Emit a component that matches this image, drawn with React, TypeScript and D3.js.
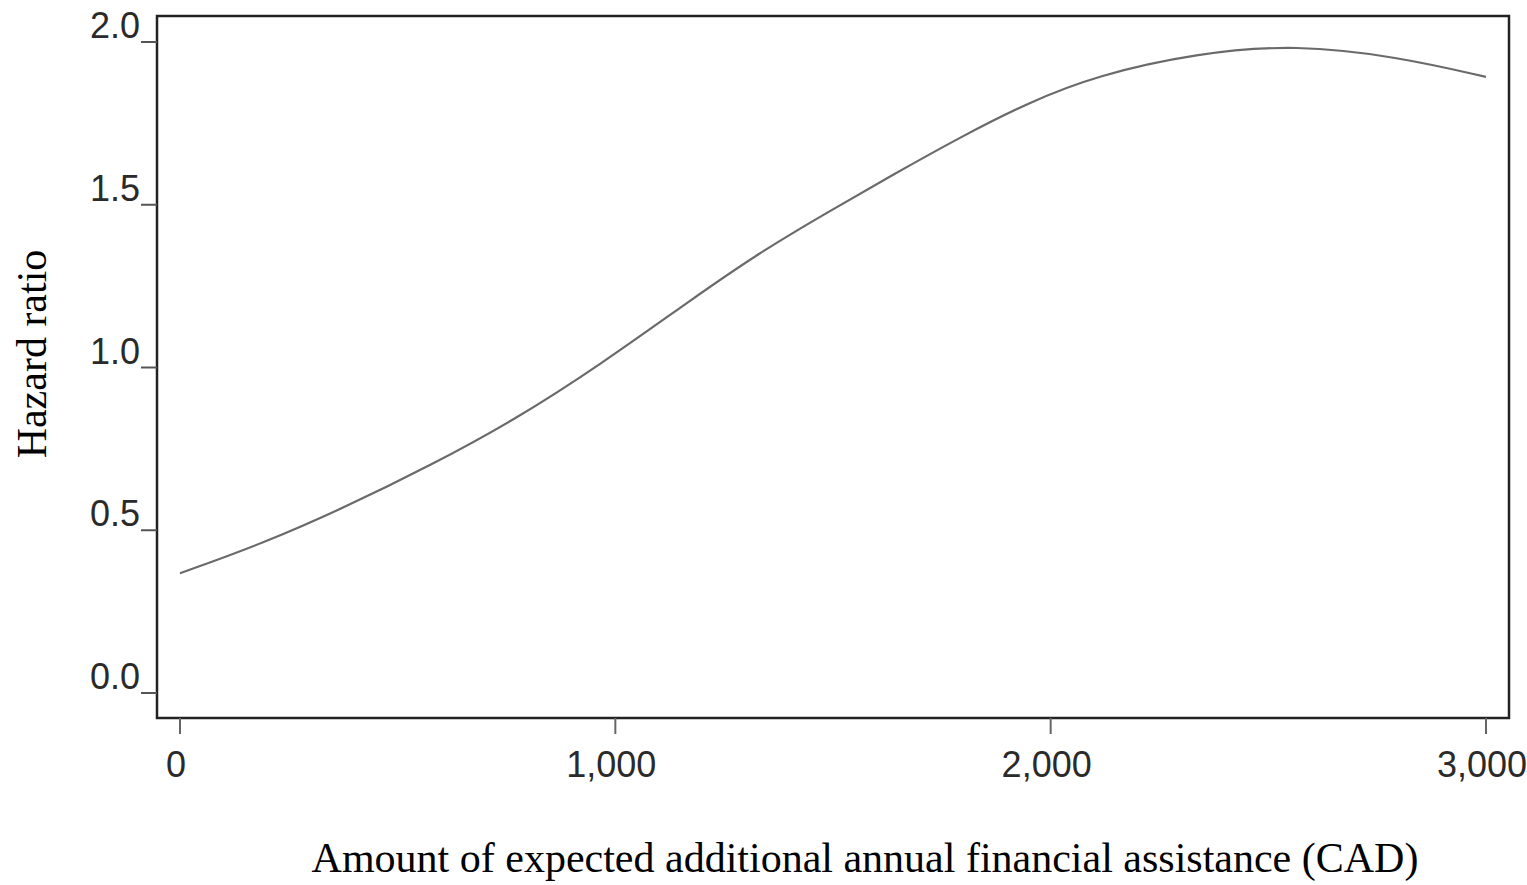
import React from "react";
import * as d3 from "d3";

const amounts = [0, 190, 385, 575, 765, 965, 1180, 1330, 1485, 1640, 1790, 1950, 2105, 2335, 2565, 2795, 3000];
const hazardRatios = [0.368, 0.459, 0.574, 0.699, 0.836, 1.008, 1.214, 1.352, 1.475, 1.594, 1.706, 1.815, 1.897, 1.966, 1.992, 1.955, 1.893];
const xTicks = [0, 1000, 2000, 3000];
const yTicks = [0, 0.5, 1.0, 1.5, 2.0];

const W = 1527;
const H = 885;
const frame = { left: 157, right: 1509, top: 16, bottom: 718 };

export default function App() {
  const x = d3.scaleLinear().domain([0, 3000]).range([180, 1486]);
  const y = d3.scaleLinear().domain([0, 2]).range([693, 42]);
  const line = d3
    .line<number>()
    .x((_, i) => x(amounts[i]))
    .y((d) => y(d))
    .curve(d3.curveBasis);
  const fmtX = d3.format(",");
  const fmtY = d3.format(".1f");

  return (
    <svg
      width={W}
      height={H}
      style={{ position: "absolute", left: 0, top: 0, background: "#fff" }}
    >
      <rect x={0} y={0} width={W} height={H} fill="#fff" />
      <rect
        x={frame.left}
        y={frame.top}
        width={frame.right - frame.left}
        height={frame.bottom - frame.top}
        fill="none"
        stroke="#222"
        strokeWidth={2.5}
      />
      {yTicks.map((t) => (
        <g key={"y" + t}>
          <line x1={141} x2={frame.left} y1={y(t)} y2={y(t)} stroke="#555" strokeWidth={2} />
          <text
            x={140}
            y={y(t) - 4}
            textAnchor="end"
            fontFamily="'Liberation Sans', Arial, sans-serif"
            fontSize={36}
            fill="#2a2a2a"
          >
            {fmtY(t)}
          </text>
        </g>
      ))}
      {xTicks.map((t) => (
        <g key={"x" + t}>
          <line x1={x(t)} x2={x(t)} y1={frame.bottom} y2={734} stroke="#666" strokeWidth={2} />
          <text
            x={x(t) - 4}
            y={777}
            textAnchor="middle"
            fontFamily="'Liberation Sans', Arial, sans-serif"
            fontSize={36}
            fill="#2a2a2a"
          >
            {fmtX(t)}
          </text>
        </g>
      ))}
      <path d={line(hazardRatios) || ""} fill="none" stroke="#6a6a6a" strokeWidth={2.2} />
      <text
        x={865}
        y={872}
        textAnchor="middle"
        fontFamily="'Liberation Serif', 'Times New Roman', serif"
        fontSize={42}
        fill="#000"
      >
        Amount of expected additional annual financial assistance (CAD)
      </text>
      <text
        transform="translate(46,354) rotate(-90)"
        textAnchor="middle"
        fontFamily="'Liberation Serif', 'Times New Roman', serif"
        fontSize={42}
        fill="#000"
      >
        Hazard ratio
      </text>
    </svg>
  );
}
